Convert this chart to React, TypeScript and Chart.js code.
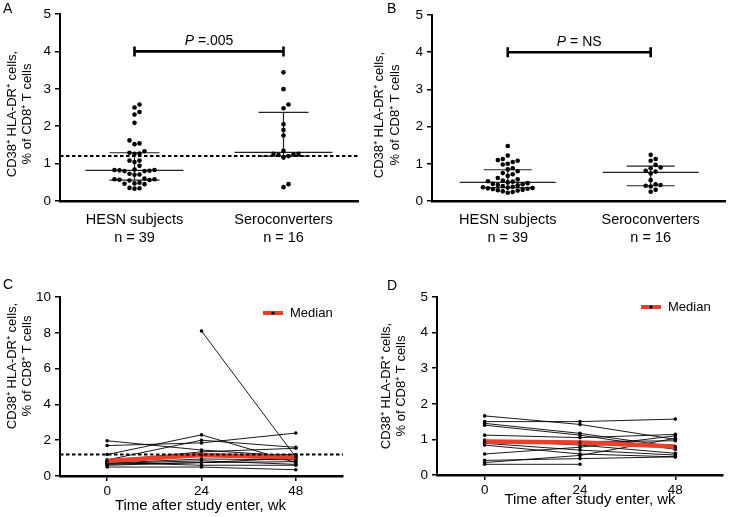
import React, { useEffect, useRef } from "react";
import { Chart, registerables } from "chart.js";

Chart.register(...registerables);

const FONT = "'Liberation Sans', Arial, Helvetica, sans-serif";
Chart.defaults.font.family = FONT;
Chart.defaults.color = "#000";

// ---------------- data ----------------
const groupNames = ["HESN subjects", "Seroconverters"];
const groupCounts = ["n = 39", "n = 16"];
const yTitle = ["CD38⁺ HLA-DR⁺ cells,", "% of CD8⁺ T cells"];
const xTitleTime = "Time after study enter, wk";
const legendLabel = "Median";

// Panel A
const aHesn = [2.58, 2.5, 2.38, 2.31, 2.09, 1.62, 1.54, 1.52, 1.33, 1.29, 1.27, 1.26, 1.08, 1.08, 1.04, 0.94,
  0.84, 0.83, 0.83, 0.82, 0.81, 0.8, 0.8, 0.73, 0.71, 0.7, 0.6, 0.58, 0.58, 0.57, 0.56, 0.55,
  0.49, 0.47, 0.46, 0.45, 0.35, 0.34, 0.33];
const aSero = [3.44, 2.99, 2.58, 2.48, 2.05, 1.9, 1.75, 1.34, 1.26, 1.26, 1.25, 1.23, 1.2, 1.16, 0.45, 0.37];
const aMedian = [0.82, 1.3];
const aQ1 = [0.56, 1.2];
const aQ3 = [1.29, 2.37];
const aThreshold = 1.2;
const aPValue = "=.005";

// Panel B
const bHesn = [1.48, 1.22, 1.13, 1.1, 1.08, 1.05, 1.0, 0.98, 0.88, 0.85, 0.8, 0.75, 0.72, 0.68, 0.62, 0.58,
  0.55, 0.53, 0.52, 0.5, 0.48, 0.46, 0.45, 0.43, 0.42, 0.4, 0.38, 0.37, 0.36, 0.35, 0.34, 0.33,
  0.32, 0.3, 0.29, 0.28, 0.26, 0.24, 0.22];
const bSero = [1.24, 1.13, 1.08, 0.97, 0.9, 0.88, 0.81, 0.79, 0.74, 0.56, 0.45, 0.43, 0.41, 0.39, 0.3, 0.25];
const bMedian = [0.5, 0.77];
const bQ1 = [0.36, 0.41];
const bQ3 = [0.84, 0.94];
const bPValue = "= NS";

// Panels C and D (weeks 0, 24, 48)
const weeks = [0, 24, 48];
const cSubjects: (number | null)[][] = [
  [1.97, 1.45, 1.1],
  [1.7, 1.85, 2.4],
  [1.2, 2.3, 0.75],
  [null, 8.1, 1.05],
  [0.9, 2.0, 1.6],
  [0.85, 1.35, 1.55],
  [0.8, 1.2, 1.2],
  [0.78, 1.1, 0.95],
  [0.72, 0.95, 0.9],
  [0.7, 0.85, 0.65],
  [0.65, 0.75, 0.8],
  [0.6, 0.75, 1.0],
  [0.5, 0.5, 0.35],
  [0.75, 0.6, 0.6],
];
const cMedian = [0.84, 1.17, 1.05];
const cThreshold = 1.2;

const dSubjects: (number | null)[][] = [
  [1.66, 1.42, 1.0],
  [1.5, 1.5, 1.57],
  [1.45, 1.17, 0.79],
  [1.4, 1.12, 0.72],
  [1.12, 1.05, 1.14],
  [0.98, 0.84, 0.61],
  [0.94, 0.94, 0.96],
  [0.89, 0.7, 0.56],
  [0.84, 0.59, 0.51],
  [0.59, 0.78, 1.1],
  [0.41, 0.46, 0.51],
  [0.35, 0.55, 1.03],
  [0.3, 0.3, null],
];
const dMedian = [0.94, 0.91, 0.8];

const RED = "#e8402a";

// ---------------- helpers ----------------
function swarm(values: number[], center: number, pxX: number, pxY: number, step = 5, diam = 4.9) {
  const order = values.map((_, i) => i).sort((a, b) => values[a] - values[b]);
  const placed: { x: number; y: number }[] = [];
  const out: { x: number; y: number }[] = new Array(values.length);
  for (const i of order) {
    const y = values[i] * pxY;
    for (let k = 0; k < 80; k++) {
      const off = k === 0 ? 0 : (k % 2 === 1 ? 1 : -1) * Math.ceil(k / 2);
      const x = off * step;
      if (placed.every((p) => Math.hypot(p.x - x, p.y - y) >= diam)) {
        placed.push({ x, y });
        out[i] = { x: center + x / pxX, y: values[i] };
        break;
      }
    }
  }
  return out;
}

type TitleOpts = { x1: number; gap: number; cy: number };

function yTitlePlugin(t: TitleOpts) {
  return {
    id: "ytitle",
    afterDraw(chart: any) {
      const ctx = chart.ctx;
      ctx.save();
      ctx.fillStyle = "#000";
      ctx.font = `13px ${FONT}`;
      ctx.textAlign = "center";
      ctx.textBaseline = "middle";
      yTitle.forEach((line, i) => {
        ctx.save();
        ctx.translate(t.x1 + i * t.gap, t.cy);
        ctx.rotate(-Math.PI / 2);
        ctx.fillText(line, 0, 0);
        ctx.restore();
      });
      ctx.restore();
    },
  };
}

type DotOpts = {
  groups: number[][];
  median: number[];
  q1: number[];
  q3: number[];
  threshold?: number;
  pValue: string;
  xMin: number;
  xMax: number;
  pxX: number;
  pxY: number;
  yWidth: number;
  xHeight: number;
  pad: { left: number; top: number; right: number; bottom: number };
  title: TitleOpts;
  medHalf: number;
  iqrHalf: number;
};

function dotConfig(o: DotOpts): any {
  const datasets = o.groups.map((vals, gi) => ({
    type: "scatter",
    data: swarm(vals, gi + 1, o.pxX, o.pxY),
    pointRadius: 2.3,
    pointBackgroundColor: "#000",
    pointBorderColor: "#000",
    pointBorderWidth: 0,
    showLine: false,
  }));

  const summaryPlugin = {
    id: "summary",
    beforeDatasetsDraw(chart: any) {
      const ctx = chart.ctx;
      const xs = chart.scales.x;
      const ys = chart.scales.y;
      ctx.save();
      ctx.strokeStyle = "#222";
      ctx.lineWidth = 1.2;
      o.median.forEach((m, i) => {
        const cx = xs.getPixelForValue(i + 1);
        const ym = ys.getPixelForValue(m);
        const y1 = ys.getPixelForValue(o.q1[i]);
        const y3 = ys.getPixelForValue(o.q3[i]);
        ctx.beginPath();
        ctx.moveTo(cx - o.medHalf, ym);
        ctx.lineTo(cx + o.medHalf, ym);
        ctx.moveTo(cx - o.iqrHalf, y1);
        ctx.lineTo(cx + o.iqrHalf, y1);
        ctx.moveTo(cx - o.iqrHalf, y3);
        ctx.lineTo(cx + o.iqrHalf, y3);
        ctx.moveTo(cx, y1);
        ctx.lineTo(cx, y3);
        ctx.stroke();
      });
      ctx.restore();
    },
    afterDatasetsDraw(chart: any) {
      const ctx = chart.ctx;
      const xs = chart.scales.x;
      const ys = chart.scales.y;
      const area = chart.chartArea;
      ctx.save();
      if (o.threshold !== undefined) {
        const yt = ys.getPixelForValue(o.threshold);
        ctx.strokeStyle = "#000";
        ctx.lineWidth = 2;
        ctx.setLineDash([3.5, 2.5]);
        ctx.beginPath();
        ctx.moveTo(area.left, yt);
        ctx.lineTo(area.right, yt);
        ctx.stroke();
        ctx.setLineDash([]);
      }
      // significance bracket
      const x1 = xs.getPixelForValue(1);
      const x2 = xs.getPixelForValue(2);
      const yb = ys.getPixelForValue(4);
      ctx.strokeStyle = "#000";
      ctx.lineWidth = 2.6;
      ctx.beginPath();
      ctx.moveTo(x1, yb);
      ctx.lineTo(x2, yb);
      ctx.moveTo(x1, yb - 5);
      ctx.lineTo(x1, yb + 5);
      ctx.moveTo(x2, yb - 5);
      ctx.lineTo(x2, yb + 5);
      ctx.stroke();
      ctx.fillStyle = "#000";
      ctx.textBaseline = "alphabetic";
      ctx.textAlign = "left";
      ctx.font = `italic 14px ${FONT}`;
      const wP = ctx.measureText("P ").width;
      ctx.font = `14px ${FONT}`;
      const wR = ctx.measureText(o.pValue).width;
      const start = (x1 + x2) / 2 - (wP + wR) / 2;
      ctx.font = `italic 14px ${FONT}`;
      ctx.fillText("P ", start, yb - 6);
      ctx.font = `14px ${FONT}`;
      ctx.fillText(o.pValue, start + wP, yb - 6);
      ctx.restore();
    },
  };

  return {
    type: "scatter",
    data: { datasets },
    options: {
      responsive: false,
      animation: false,
      events: [],
      layout: { padding: o.pad },
      plugins: { legend: { display: false }, tooltip: { enabled: false } },
      scales: {
        x: {
          type: "linear",
          min: o.xMin,
          max: o.xMax,
          afterBuildTicks: (s: any) => {
            s.ticks = [{ value: 1 }, { value: 2 }];
          },
          afterFit: (s: any) => {
            s.height = o.xHeight;
          },
          ticks: {
            callback: (v: number) => [groupNames[v - 1], groupCounts[v - 1]],
            font: { size: 14.5, lineHeight: 1.25 },
            color: "#000",
            padding: 10,
            maxRotation: 0,
            autoSkip: false,
          },
          grid: { drawOnChartArea: false, drawTicks: false },
          border: { color: "#000", width: 2.5 },
        },
        y: {
          type: "linear",
          min: 0,
          max: 5,
          ticks: { stepSize: 1, font: { size: 13.5 }, padding: 4, color: "#000" },
          grid: { drawOnChartArea: false, drawTicks: true, tickLength: 5, color: "#000", lineWidth: 1.5 },
          border: { color: "#000", width: 2 },
          title: { display: false },
          afterFit: (s: any) => {
            s.width = o.yWidth;
          },
        },
      },
    },
    plugins: [summaryPlugin, yTitlePlugin(o.title)],
  };
}

type LineOpts = {
  subjects: (number | null)[][];
  median: number[];
  threshold?: number;
  yMax: number;
  yStep: number;
  yWidth: number;
  xHeight: number;
  pad: { left: number; top: number; right: number; bottom: number };
  title: TitleOpts;
  xTitleDx: number;
  xTitleY: number;
  legendDx: number;
  legendDy: number;
};

function lineConfig(o: LineOpts): any {
  const datasets: any[] = [
    {
      label: legendLabel,
      data: weeks.map((w, i) => ({ x: w, y: o.median[i] })),
      borderColor: RED,
      borderWidth: 4.5,
      pointRadius: 1.6,
      pointBackgroundColor: "#000",
      pointBorderWidth: 0,
      order: 0,
    },
    ...o.subjects.map((s) => ({
      data: weeks.map((w, i) => ({ x: w, y: s[i] })),
      borderColor: "#000",
      borderWidth: 0.9,
      pointRadius: 1.8,
      pointBackgroundColor: "#000",
      pointBorderWidth: 0,
      order: 1,
    })),
  ];

  const extraPlugin = {
    id: "extra",
    afterDatasetsDraw(chart: any) {
      const ctx = chart.ctx;
      const ys = chart.scales.y;
      const area = chart.chartArea;
      ctx.save();
      if (o.threshold !== undefined) {
        const yt = ys.getPixelForValue(o.threshold);
        ctx.strokeStyle = "#000";
        ctx.lineWidth = 2;
        ctx.setLineDash([3.5, 2.5]);
        ctx.beginPath();
        ctx.moveTo(area.left, yt);
        ctx.lineTo(area.right, yt);
        ctx.stroke();
        ctx.setLineDash([]);
      }
      // legend
      const lx1 = area.right - o.legendDx;
      const lx2 = lx1 + 20;
      const ly = area.top + o.legendDy;
      ctx.strokeStyle = RED;
      ctx.lineWidth = 4;
      ctx.beginPath();
      ctx.moveTo(lx1, ly);
      ctx.lineTo(lx2, ly);
      ctx.stroke();
      ctx.fillStyle = "#000";
      ctx.beginPath();
      ctx.arc((lx1 + lx2) / 2, ly, 1.6, 0, Math.PI * 2);
      ctx.fill();
      ctx.font = `13px ${FONT}`;
      ctx.textAlign = "left";
      ctx.textBaseline = "middle";
      ctx.fillText(legendLabel, lx2 + 7, ly);
      // x axis title
      ctx.font = `15px ${FONT}`;
      ctx.textAlign = "center";
      ctx.fillText(xTitleTime, (area.left + area.right) / 2 + o.xTitleDx, o.xTitleY);
      ctx.restore();
    },
  };

  return {
    type: "line",
    data: { datasets },
    options: {
      responsive: false,
      animation: false,
      events: [],
      spanGaps: false,
      layout: { padding: o.pad },
      elements: { line: { tension: 0 } },
      plugins: { legend: { display: false }, tooltip: { enabled: false } },
      scales: {
        x: {
          type: "linear",
          min: -12,
          max: 60,
          afterBuildTicks: (s: any) => {
            s.ticks = weeks.map((w) => ({ value: w }));
          },
          afterFit: (s: any) => {
            s.height = o.xHeight;
          },
          ticks: { font: { size: 13.5 }, color: "#000", padding: 2, maxRotation: 0, autoSkip: false },
          grid: { drawOnChartArea: false, drawTicks: true, tickLength: 5, color: "#000", lineWidth: 1.5 },
          border: { color: "#000", width: 2.5 },
          title: { display: false },
        },
        y: {
          type: "linear",
          min: 0,
          max: o.yMax,
          ticks: { stepSize: o.yStep, font: { size: 13.5 }, padding: 4, color: "#000" },
          grid: { drawOnChartArea: false, drawTicks: true, tickLength: 5, color: "#000", lineWidth: 1.5 },
          border: { color: "#000", width: 2 },
          title: { display: false },
          afterFit: (s: any) => {
            s.width = o.yWidth;
          },
        },
      },
    },
    plugins: [extraPlugin, yTitlePlugin(o.title)],
  };
}

function Panel(props: { left: number; top: number; width: number; height: number; make: () => any }) {
  const ref = useRef<HTMLCanvasElement>(null);
  useEffect(() => {
    const chart = new Chart(ref.current as HTMLCanvasElement, props.make());
    return () => chart.destroy();
  }, []);
  return (
    <canvas
      ref={ref}
      width={props.width}
      height={props.height}
      style={{ position: "absolute", left: props.left, top: props.top, width: props.width, height: props.height }}
    />
  );
}

const letterStyle = (left: number, top: number): React.CSSProperties => ({
  position: "absolute",
  left,
  top,
  fontFamily: FONT,
  fontSize: 14,
  lineHeight: "16px",
  color: "#000",
});

export default function App() {
  return (
    <div
      style={{
        position: "fixed",
        left: 0,
        top: 0,
        width: 729,
        height: 517,
        background: "#fff",
        overflow: "hidden",
      }}
    >
      <Panel
        left={0}
        top={0}
        width={364}
        height={258}
        make={() =>
          dotConfig({
            groups: [aHesn, aSero],
            median: aMedian,
            q1: aQ1,
            q3: aQ3,
            threshold: aThreshold,
            pValue: aPValue,
            xMin: 0.5,
            xMax: 2.5,
            pxX: 149,
            pxY: 37.4,
            yWidth: 60,
            xHeight: 57,
            pad: { left: 0, top: 14, right: 6, bottom: 0 },
            title: { x1: 12, gap: 15, cy: 114 },
            medHalf: 49,
            iqrHalf: 25,
          })
        }
      />
      <Panel
        left={364}
        top={0}
        width={365}
        height={258}
        make={() =>
          dotConfig({
            groups: [bHesn, bSero],
            median: bMedian,
            q1: bQ1,
            q3: bQ3,
            pValue: bPValue,
            xMin: 0.47,
            xMax: 2.52,
            pxX: 144,
            pxY: 37.2,
            yWidth: 68,
            xHeight: 57,
            pad: { left: 0, top: 15, right: 2, bottom: 0 },
            title: { x1: 15, gap: 16, cy: 115 },
            medHalf: 48,
            iqrHalf: 24,
          })
        }
      />
      <Panel
        left={0}
        top={258}
        width={364}
        height={259}
        make={() =>
          lineConfig({
            subjects: cSubjects,
            median: cMedian,
            threshold: cThreshold,
            yMax: 10,
            yStep: 2,
            yWidth: 60,
            xHeight: 41,
            pad: { left: 0, top: 39, right: 21, bottom: 0 },
            title: { x1: 12, gap: 15, cy: 108 },
            xTitleDx: -1,
            xTitleY: 248,
            legendDx: 80,
            legendDy: 16,
          })
        }
      />
      <Panel
        left={364}
        top={258}
        width={365}
        height={259}
        make={() =>
          lineConfig({
            subjects: dSubjects,
            median: dMedian,
            yMax: 5,
            yStep: 1,
            yWidth: 73,
            xHeight: 42,
            pad: { left: 0, top: 39, right: 6, bottom: 0 },
            title: { x1: 22, gap: 15, cy: 128 },
            xTitleDx: 10,
            xTitleY: 242,
            legendDx: 82,
            legendDy: 10,
          })
        }
      />
      <div style={letterStyle(3, 0)}>A</div>
      <div style={letterStyle(387, 0)}>B</div>
      <div style={letterStyle(3, 276)}>C</div>
      <div style={letterStyle(387, 277)}>D</div>
    </div>
  );
}
